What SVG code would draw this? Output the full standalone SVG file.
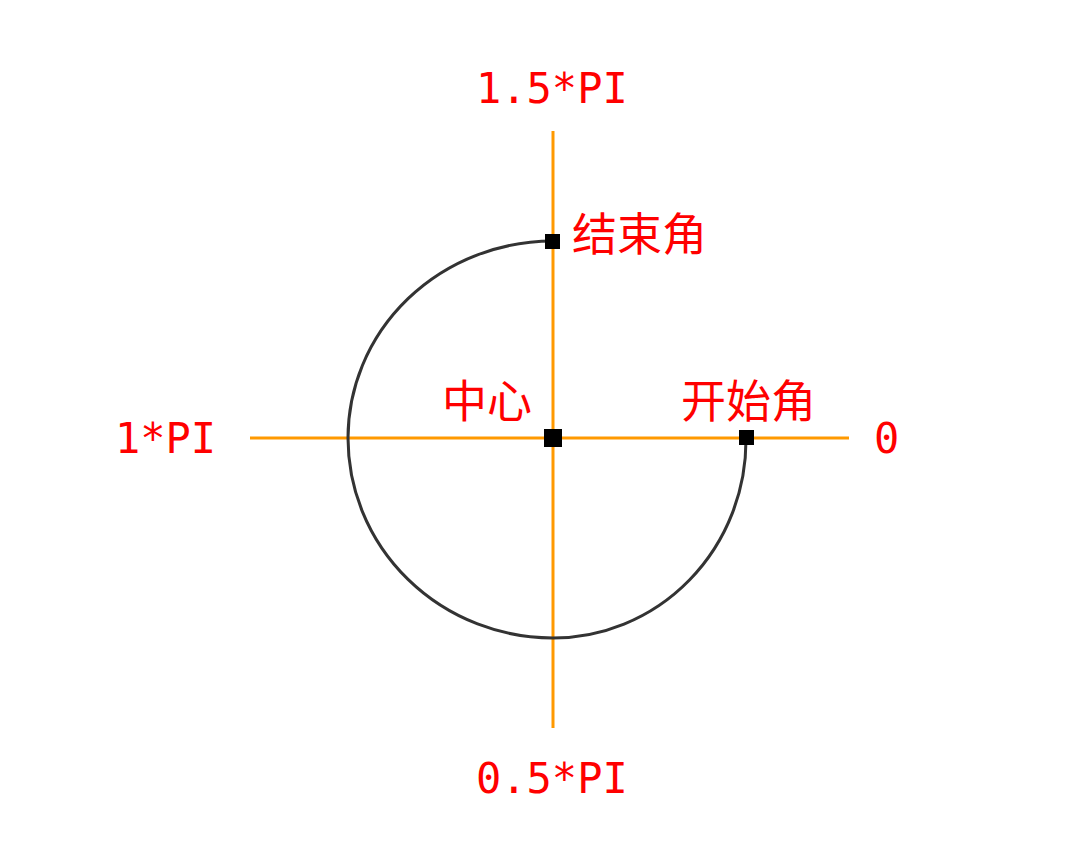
<svg xmlns="http://www.w3.org/2000/svg" width="1080" height="857" viewBox="0 0 1080 857">
<style>
.axis{stroke:#FF9900;stroke-width:3;fill:none}
.arc{stroke:#333;stroke-width:3;fill:none}
.lbl{fill:#FF0000;font-family:"DejaVu Sans Mono","Liberation Mono",monospace;font-size:42px}
.cjk{fill:#FF0000;font-family:"Noto Sans CJK SC","Noto Sans",sans-serif;font-size:45px}
.pt{fill:#000}
</style>
<rect width="1080" height="857" fill="#fff"/>
<g id="connectors">
<line class="axis" x1="250" y1="438" x2="849" y2="438"/>
<line class="axis" x1="553" y1="131" x2="553" y2="728"/>
<path class="arc" d="M746,440 A193,198 0 0 1 553,638 A205,200 0 0 1 348,438 A205,197 0 0 1 553,241"/>
</g>
<g id="center"><rect class="pt" x="544" y="429" width="18" height="18"/><text class="cjk" x="442" y="418">中心</text></g>
<g id="start"><rect class="pt" x="739" y="430" width="15" height="15"/><text class="cjk" x="681" y="418">开始角</text></g>
<g id="end"><rect class="pt" x="545" y="234" width="15" height="15"/><text class="cjk" x="572" y="251">结束角</text></g>
<g id="label-0"><text class="lbl" x="874" y="453">0</text></g>
<g id="label-pi"><text class="lbl" x="115" y="453">1*PI</text></g>
<g id="label-15pi"><text class="lbl" x="476" y="103">1.5*PI</text></g>
<g id="label-05pi"><text class="lbl" x="476" y="793">0.5*PI</text></g>
</svg>
